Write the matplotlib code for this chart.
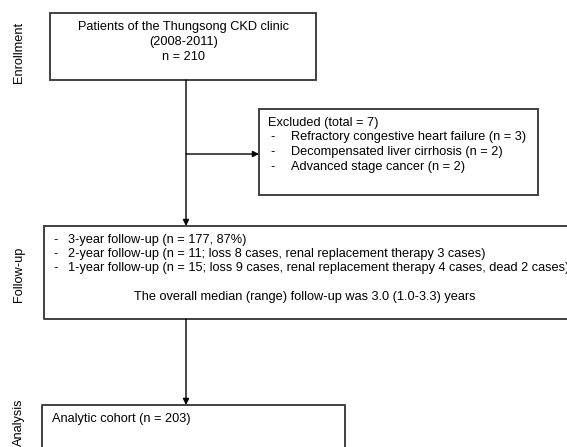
import matplotlib
matplotlib.use("Agg")
from matplotlib import pyplot as plt
from matplotlib.patches import Rectangle

plt.rcParams['font.family'] = ['Liberation Sans', 'DejaVu Sans']

## TEXT
stage_labels = ["Enrollment", "Follow-up", "Analysis"]
enroll_lines = ["Patients of the Thungsong CKD clinic", "(2008-2011)", "n = 210"]
excluded_title = "Excluded (total = 7)"
excluded_items = ["Refractory congestive heart failure (n = 3)",
                  "Decompensated liver cirrhosis (n = 2)",
                  "Advanced stage cancer (n = 2)"]
followup_items = ["3-year follow-up (n = 177, 87%)",
                  "2-year follow-up (n = 11; loss 8 cases, renal replacement therapy 3 cases)",
                  "1-year follow-up (n = 15; loss 9 cases, renal replacement therapy 4 cases, dead 2 cases)"]
followup_note = "The overall median (range) follow-up was 3.0 (1.0-3.3) years"
analysis_text = "Analytic cohort (n = 203)"
## END TEXT

W, H = 567, 447
fig = plt.figure(figsize=(W / 100, H / 100), dpi=100)
ax = fig.add_axes([0, 0, 1, 1])
ax.set_xlim(0, W)
ax.set_ylim(H, 0)
ax.axis("off")

ec = "#404040"
lw = 1.4
fs = 9.2

def box(x0, y0, x1, y1):
    ax.add_patch(Rectangle((x0, y0), x1 - x0, y1 - y0, fill=False, ec=ec, lw=lw, clip_on=False))

def arrow(x0, y0, x1, y1):
    ax.annotate("", xy=(x1, y1), xytext=(x0, y0),
                arrowprops=dict(arrowstyle="-|>", color="black", lw=1.0, mutation_scale=9,
                                shrinkA=0, shrinkB=0))

# enrollment box
box(50, 13, 316, 80)
for i, s in enumerate(enroll_lines):
    ax.text(184, 27 + i * 15, s, ha="center", va="center", fontsize=fs)

# excluded box
box(259, 109, 538, 195)
ax.text(268, 123, excluded_title, ha="left", va="center", fontsize=fs)
for i, s in enumerate(excluded_items):
    y = 137 + i * 15
    ax.text(270, y, "-", ha="left", va="center", fontsize=fs)
    ax.text(291, y, s, ha="left", va="center", fontsize=fs)

# connectors
arrow(186, 80, 186, 226)
arrow(186, 154, 259, 154)

# follow-up box (runs off the right edge)
ax.plot([44, W + 5, W + 5, 44, 44], [226, 226, 319, 319, 226], color=ec, lw=lw)
for i, s in enumerate(followup_items):
    y = 240 + i * 14
    ax.text(53, y, "-", ha="left", va="center", fontsize=fs)
    ax.text(68, y, s, ha="left", va="center", fontsize=fs)
ax.text(305, 297, followup_note, ha="center", va="center", fontsize=fs)

arrow(186, 319, 186, 405)

# analysis box (runs off the bottom)
ax.plot([42, 42, 345, 345], [H + 5, 405, 405, H + 5], color=ec, lw=lw)
ax.text(52, 419, analysis_text, ha="left", va="center", fontsize=fs)

# stage labels
for s, y in zip(stage_labels, [52, 274, 422]):
    ax.text(19, y, s, rotation=90, ha="center", va="center", fontsize=fs)

fig.savefig("out.png", dpi=100)
